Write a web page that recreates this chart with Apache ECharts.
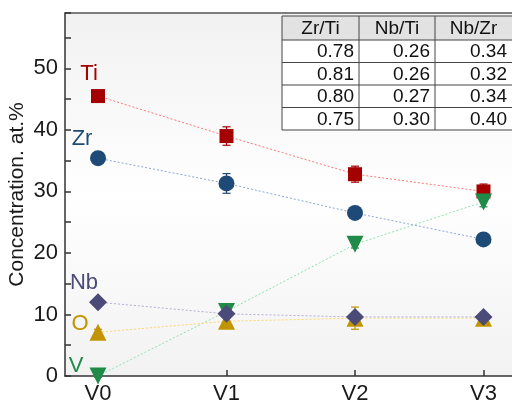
<!DOCTYPE html>
<html><head><meta charset="utf-8">
<script src="https://cdn.jsdelivr.net/npm/echarts@6/dist/echarts.min.js"></script>
<style>html,body{margin:0;padding:0;background:#fff}#c{width:512px;height:403px}</style>
</head><body><div id="c"></div>
<script>
const categories = ['V0', 'V1', 'V2', 'V3'];
const ti = [45.5, 39.0, 32.8, 30.0];
const tiErr = [0.6, 1.5, 1.3, 1.2];
const zr = [35.4, 31.3, 26.5, 22.2];
const zrErr = [0.5, 1.6, 0.5, 0.5];
const nb = [12.0, 10.1, 9.6, 9.6];
const nbErr = [0.3, 0.4, 0.4, 0.4];
const o = [7.1, 8.9, 9.4, 9.4];
const oErr = [0.5, 1.0, 1.8, 0.8];
const v = [0.0, 10.5, 21.4, 28.3];
const vErr = [0.2, 0.6, 0.6, 0.8];
const tableHeader = ['Zr/Ti', 'Nb/Ti', 'Nb/Zr'];
const zrTi = ['0.78', '0.81', '0.80', '0.75'];
const nbTi = ['0.26', '0.26', '0.27', '0.30'];
const nbZr = ['0.34', '0.32', '0.34', '0.40'];

const FONT = 'Liberation Sans, Arial, sans-serif';
const chart = echarts.init(document.getElementById('c'));

function mk(name, vals, errs, symbol, size, color, lineColor, lab) {
  const data = vals.map((y, i) => {
    const item = { value: [i, y] };
    if (i === 0) item.label = { show: true, formatter: name, position: 'inside', offset: lab, color: color, fontSize: 22, fontFamily: FONT };
    return item;
  });
  return [{
    type: 'custom', name: name + 'err', z: 3,
    data: vals.map((y, i) => [i, y, errs[i]]),
    renderItem: (params, api) => {
      const x = api.value(0), y = api.value(1), e = api.value(2);
      const p1 = api.coord([x, y + e]), p2 = api.coord([x, y - e]);
      const st = { stroke: color, lineWidth: 1.2 };
      return { type: 'group', children: [
        { type: 'line', shape: { x1: p1[0], y1: p1[1], x2: p2[0], y2: p2[1] }, style: st },
        { type: 'line', shape: { x1: p1[0] - 4, y1: p1[1], x2: p1[0] + 4, y2: p1[1] }, style: st },
        { type: 'line', shape: { x1: p2[0] - 4, y1: p2[1], x2: p2[0] + 4, y2: p2[1] }, style: st }
      ]};
    }
  }, {
    type: 'line', name: name, data: data, symbol: symbol, symbolSize: size, z: 4,
    itemStyle: { color: color }, lineStyle: { color: lineColor, width: 1, type: [2, 2] },
    showSymbol: true, animation: false
  }];
}

const series = [].concat(
  mk('Ti', ti, tiErr, 'rect', 14, '#a50000', '#f77', [-9, -22]),
  mk('Zr', zr, zrErr, 'circle', 16, '#1d4a76', '#8aa8d4', [-16, -19]),
  mk('V', v, vErr, 'path://M0,0 L10,0 L5,8.7 Z', 17, '#208a48', '#8ee0ac', [-22, -10]),
  mk('O', o, oErr, 'triangle', 17, '#c29400', '#ffd66a', [-18, -8]),
  mk('Nb', nb, nbErr, 'diamond', 18, '#4b4a78', '#b4aed6', [-14, -19])
);

// table graphics
const tx = [282, 359, 435, 512];
const ty = 16, hh = 24, rh = 22.5;
const g = [];
g.push({ type: 'rect', shape: { x: tx[0], y: ty, width: tx[3] - tx[0], height: hh }, style: { fill: '#e2e2e2' }, z: 10 });
g.push({ type: 'rect', shape: { x: tx[0], y: ty + hh, width: tx[3] - tx[0], height: rh * 4 }, style: { fill: '#fff' }, z: 10 });
const cols = [zrTi, nbTi, nbZr];
for (let c = 0; c < 3; c++) {
  g.push({ type: 'text', z: 12, style: { text: tableHeader[c], x: (tx[c] + tx[c + 1]) / 2, y: ty + hh / 2 + 1, align: 'center', verticalAlign: 'middle', font: '19px ' + FONT, fill: '#111' } });
  for (let r = 0; r < 4; r++) {
    g.push({ type: 'text', z: 12, style: { text: cols[c][r], x: tx[c + 1] - 5, y: ty + hh + rh * r + rh / 2 + 1, align: 'right', verticalAlign: 'middle', font: '19px ' + FONT, fill: '#111' } });
  }
}
const ls = { stroke: '#444', lineWidth: 1 };
for (let r = 0; r <= 5; r++) {
  const yy = r === 0 ? ty : ty + hh + rh * (r - 1);
  g.push({ type: 'line', z: 13, shape: { x1: tx[0], y1: yy, x2: tx[3], y2: yy }, style: ls });
}
for (let c = 0; c < 3; c++) {
  g.push({ type: 'line', z: 13, shape: { x1: tx[c], y1: ty, x2: tx[c], y2: ty + hh + rh * 4 }, style: ls });
}

chart.setOption({
  animation: false,
  grid: { left: 65, right: 0, top: 13, bottom: 27, show: true, borderWidth: 0, containLabel: false, outerBoundsMode: 'none',
    backgroundColor: { type: 'linear', x: 0, y: 0, x2: 0, y2: 1, colorStops: [{ offset: 0, color: '#f1f1f1' }, { offset: 0.5, color: '#ffffff' }, { offset: 1, color: '#f2f2f2' }] } },
  xAxis: [{
    type: 'value', min: -0.257, max: 3.222,
    axisLine: { show: true, onZero: false, lineStyle: { color: '#333', width: 1.5 } },
    axisTick: { show: true, inside: true, length: 6, customValues: [0, 1, 2, 3], lineStyle: { color: '#333', width: 1.5 } },
    axisLabel: { customValues: [0, 1, 2, 3], formatter: (val) => categories[Math.round(val)], fontSize: 22, color: '#1a1a1a', fontFamily: FONT, margin: 7 },
    splitLine: { show: false }
  }, {
    type: 'value', position: 'top', min: -0.257, max: 3.222,
    axisLine: { show: true, onZero: false, lineStyle: { color: '#555', width: 1.5 } },
    axisTick: { show: false }, axisLabel: { show: false }, splitLine: { show: false }
  }],
  yAxis: {
    type: 'value', min: 0, max: 59, interval: 10,
    name: 'Concentration. at.%', nameLocation: 'middle', nameGap: 37, nameRotate: 90, nameMoveOverlap: false,
    nameTextStyle: { fontSize: 21, color: '#1a1a1a', fontFamily: FONT },
    axisLine: { show: true, onZero: false, lineStyle: { color: '#333', width: 1.5 } },
    axisTick: { show: true, inside: true, length: 6, lineStyle: { color: '#333', width: 1.5 } },
    minorTick: { show: true, splitNumber: 2, length: 6, lineStyle: { color: '#333', width: 1.5 } },
    axisLabel: { fontSize: 22, color: '#1a1a1a', fontFamily: FONT, margin: 7, showMaxLabel: false },
    splitLine: { show: false }
  },
  graphic: g,
  series: series
});
</script></body></html>
